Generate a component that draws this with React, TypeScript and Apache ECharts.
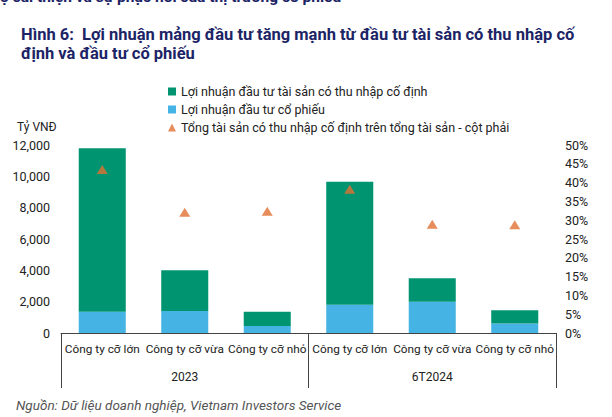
import React, { useEffect, useRef } from "react";
import * as echarts from "echarts";

const categories = [
  "Công ty cỡ lớn",
  "Công ty cỡ vừa",
  "Công ty cỡ nhỏ",
  "Công ty cỡ lớn",
  "Công ty cỡ vừa",
  "Công ty cỡ nhỏ",
];
const groups = ["2023", "6T2024"];
const fixedIncomeProfit = [10450, 2600, 900, 7850, 1500, 850];
const equityProfit = [1350, 1400, 450, 1800, 2000, 600];
const fixedIncomeRatio = [0.435, 0.321, 0.324, 0.382, 0.289, 0.288];

const leftTicks = { min: 0, max: 12000, interval: 2000 };
const rightTicks = { min: 0, max: 0.5, interval: 0.05 };

const nameFixed = "Lợi nhuận đầu tư tài sản có thu nhập cố định";
const nameEquity = "Lợi nhuận đầu tư cổ phiếu";
const nameRatio = "Tổng tài sản có thu nhập cố định trên tổng tài sản - cột phải";

const FONT = "Roboto, sans-serif";
const GREEN = "#009471";
const BLUE = "#45b3e3";
const ORANGE = "#e07132";
const NAVY = "#1c2466";

export default function App() {
  const ref = useRef<HTMLDivElement>(null);
  useEffect(() => {
    if (!ref.current) return;
    const chart = echarts.init(ref.current, null, { renderer: "svg" });
    chart.setOption({
      animation: false,
      backgroundColor: "#ffffff",
      textStyle: { fontFamily: FONT },
      title: {
        text: "Hình 6:  Lợi nhuận mảng đầu tư tăng mạnh từ đầu tư tài sản có thu nhập cố\nđịnh và đầu tư cổ phiếu",
        left: 16,
        top: 20,
        textStyle: {
          fontFamily: FONT,
          fontSize: 16.5,
          fontWeight: "bold",
          color: NAVY,
          lineHeight: 19,
        },
      },
      graphic: [
        {
          type: "text",
          left: 0,
          top: -11,
          style: {
            text: "ộ cải thiện và sự phục hồi của thị trường cổ phiếu",
            font: "bold 15.5px Roboto, sans-serif",
            fill: NAVY,
          },
        },
        {
          type: "text",
          left: 17,
          top: 121,
          style: { text: "Tỷ VNĐ", font: "12px " + FONT, fill: "#222" },
        },
        {
          type: "text",
          left: 16,
          top: 398,
          style: {
            text: "Nguồn: Dữ liệu doanh nghiệp, Vietnam Investors Service",
            font: "italic 13.5px " + FONT,
            fill: "#555",
          },
        },
      ],
      legend: {
        orient: "vertical",
        left: 163,
        top: 80,
        itemWidth: 8,
        itemHeight: 8,
        itemGap: 5,
        textStyle: { fontSize: 12.5, color: "#222", fontFamily: FONT },
        data: [
          { name: nameFixed, icon: "rect" },
          { name: nameEquity, icon: "rect" },
          { name: nameRatio, icon: "triangle" },
        ],
      },
      grid: { left: 61, right: 56, top: 145, bottom: 84 },
      xAxis: [
        {
          type: "category",
          data: categories,
          axisLine: { show: true, lineStyle: { color: "#444", width: 1 } },
          axisTick: { show: false },
          axisLabel: { margin: 10, fontSize: 11.8, color: "#222", interval: 0 },
        },
        {
          type: "category",
          data: groups,
          position: "bottom",
          axisLine: { show: false },
          axisTick: { show: true, length: 55, lineStyle: { color: "#444" } },
          axisLabel: { margin: 38, fontSize: 12, color: "#222" },
        },
      ],
      yAxis: [
        {
          type: "value",
          ...leftTicks,
          axisLine: { show: false },
          axisTick: { show: false },
          splitLine: { show: false },
          axisLabel: {
            margin: 11,
            fontSize: 12.5,
            color: "#222",
            formatter: (v: number) => v.toLocaleString("en-US"),
          },
        },
        {
          type: "value",
          position: "right",
          ...rightTicks,
          axisLine: { show: false },
          axisTick: { show: false },
          splitLine: { show: false },
          axisLabel: {
            margin: 9,
            fontSize: 12.5,
            color: "#222",
            formatter: (v: number) => Math.round(v * 100) + "%",
          },
        },
      ],
      series: [
        {
          name: nameEquity,
          type: "bar",
          stack: "total",
          barWidth: "57%",
          data: equityProfit,
          itemStyle: { color: BLUE },
        },
        {
          name: nameFixed,
          type: "bar",
          stack: "total",
          data: fixedIncomeProfit,
          itemStyle: { color: GREEN },
        },
        {
          name: nameRatio,
          type: "scatter",
          yAxisIndex: 1,
          symbol: "triangle",
          symbolSize: [11, 9],
          data: fixedIncomeRatio,
          itemStyle: { color: ORANGE },
        },
      ],
    });
    return () => chart.dispose();
  }, []);
  return (
    <div
      ref={ref}
      style={{ position: "absolute", left: 0, top: 0, width: 612, height: 417 }}
    />
  );
}
